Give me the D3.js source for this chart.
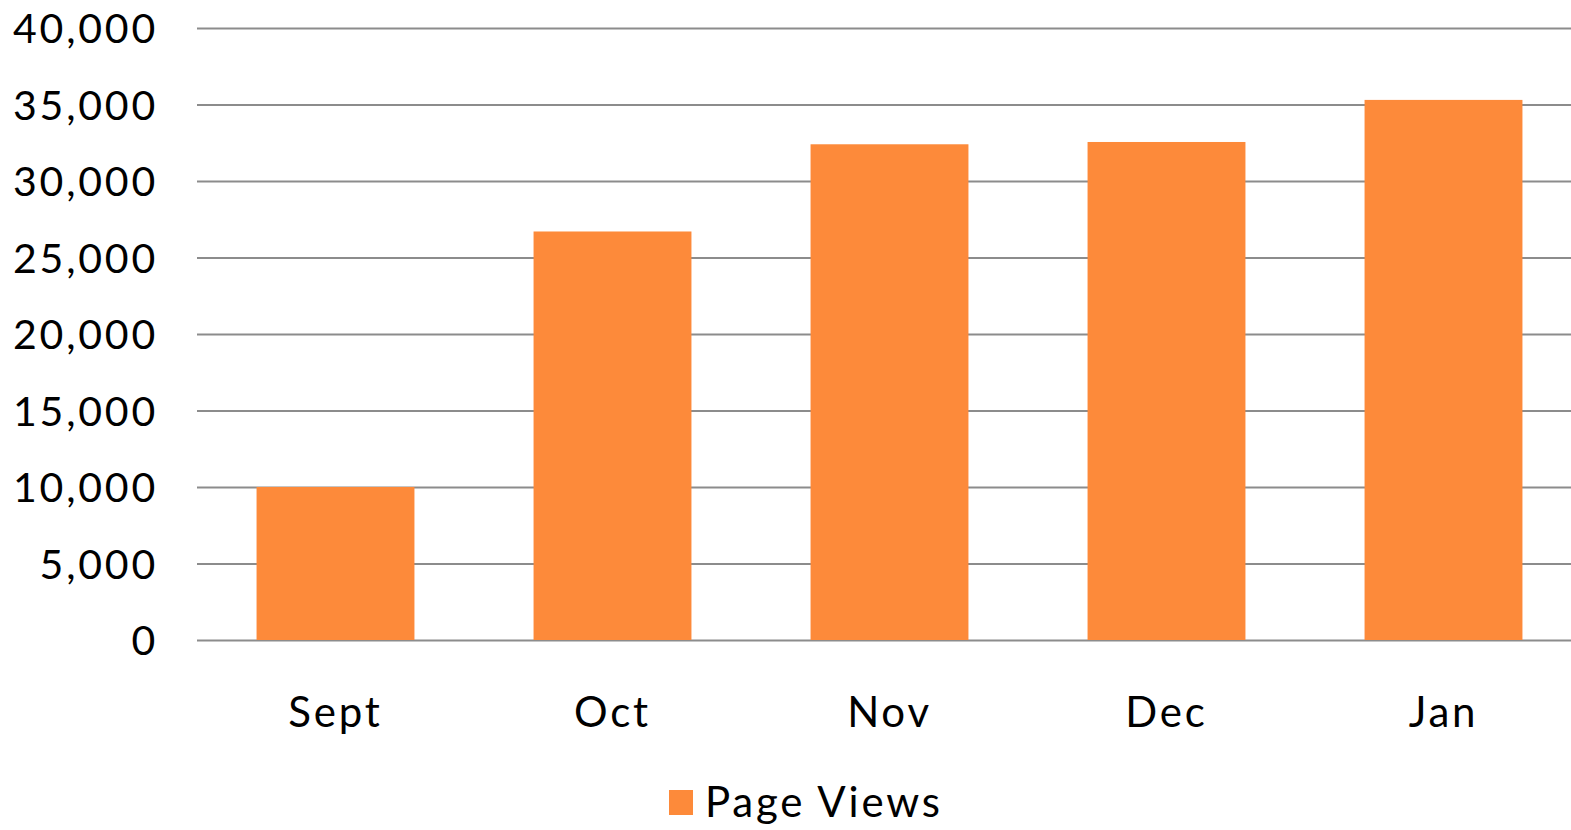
<!DOCTYPE html>
<html>
<head>
<meta charset="utf-8">
<script src="https://d3js.org/d3.v7.min.js"></script>
<style>
  html, body { margin: 0; padding: 0; background: #ffffff; }
  svg { display: block; }
</style>
</head>
<body>
<div id="chart"></div>
<script>
// data
var months = ["Sept", "Oct", "Nov", "Dec", "Jan"];
var pageViews = [10000, 26700, 32400, 32550, 35300];
var yTicks = [0, 5000, 10000, 15000, 20000, 25000, 30000, 35000, 40000];
var seriesName = "Page Views";

var width = 1571, height = 830;
var barColor = "#fd8a3a";
var gridColor = "#8c8c8c";
var fontFamily = "Lato, 'Open Sans', sans-serif";
var spacing = "2.8px";

var svg = d3.select("#chart").append("svg")
    .attr("width", width)
    .attr("height", height);

// scales
var x = d3.scaleBand()
    .domain(months)
    .range([197, 1582])
    .paddingInner(0.43)
    .paddingOuter(0.215);

var y = d3.scaleLinear()
    .domain([0, 40000])
    .range([640, 28]);

// gridlines + y labels
var yAxis = svg.append("g")
    .attr("transform", "translate(197,0)")
    .call(d3.axisLeft(y)
        .tickValues(yTicks)
        .tickSize(-(width - 197))
        .tickPadding(39)
        .tickFormat(d3.format(",")));

yAxis.select(".domain").remove();
yAxis.selectAll(".tick line")
    .attr("stroke", gridColor)
    .attr("stroke-width", 2);
yAxis.selectAll(".tick text")
    .attr("font-family", fontFamily)
    .attr("font-size", "41px")
    .attr("letter-spacing", spacing)
    .attr("fill", "#000000")
    .attr("dy", "0.36em");

// bars
svg.selectAll(".bar")
    .data(months)
    .join("rect")
    .attr("class", "bar")
    .attr("x", function(d) { return x(d); })
    .attr("width", x.bandwidth())
    .attr("y", function(d, i) { return y(pageViews[i]); })
    .attr("height", function(d, i) { return y(0) - y(pageViews[i]); })
    .attr("fill", barColor);

// x labels
var xAxis = svg.append("g")
    .attr("transform", "translate(0," + y(0) + ")")
    .call(d3.axisBottom(x).tickSize(0).tickPadding(0));

xAxis.select(".domain").remove();
xAxis.selectAll(".tick text")
    .attr("font-family", fontFamily)
    .attr("font-size", "42px")
    .attr("letter-spacing", spacing)
    .attr("fill", "#000000")
    .attr("dy", null)
    .attr("y", 87);

// legend
var legend = svg.append("g")
    .attr("transform", "translate(669,790)");

legend.append("rect")
    .attr("width", 24)
    .attr("height", 25)
    .attr("fill", barColor);

legend.append("text")
    .attr("x", 36)
    .attr("y", 27)
    .attr("font-family", fontFamily)
    .attr("font-size", "42px")
    .attr("letter-spacing", spacing)
    .attr("fill", "#000000")
    .text(seriesName);
</script>
</body>
</html>
